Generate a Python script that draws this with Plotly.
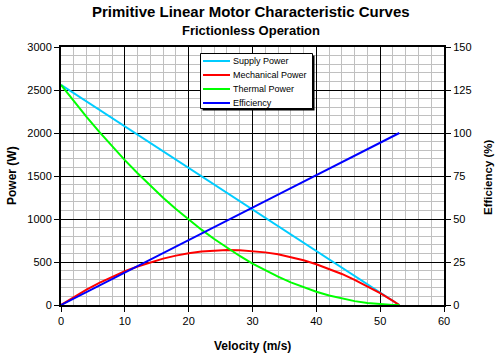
import plotly.graph_objects as go

# ---- data ----
velocity = [0, 2, 4, 6, 8, 10, 12, 14, 16, 18, 20, 22, 24, 26, 28, 30, 32, 34, 36, 38,
            40, 42, 44, 46, 48, 50, 52, 53]
supply_power = [2560, 2463, 2367, 2270, 2174, 2077, 1980, 1884, 1787, 1691, 1594, 1497, 1401,
                1304, 1208, 1111, 1014, 918, 821, 725, 628, 531, 435, 338, 242, 145, 48, 0]
mechanical_power = [0, 93, 179, 257, 328, 392, 448, 498, 539, 574, 602, 621, 634, 640, 638,
                    629, 612, 589, 558, 520, 474, 421, 361, 293, 219, 137, 47, 0]
thermal_power = [2560, 2370, 2188, 2013, 1846, 1685, 1532, 1386, 1248, 1117, 992, 876, 767,
                 664, 570, 482, 402, 329, 263, 205, 154, 110, 74, 45, 23, 8, 1, 0]
efficiency = [0, 3.8, 7.5, 11.3, 15.1, 18.9, 22.6, 26.4, 30.2, 34.0, 37.7, 41.5, 45.3, 49.1,
              52.8, 56.6, 60.4, 64.2, 67.9, 71.7, 75.5, 79.2, 83.0, 86.8, 90.6, 94.3, 98.1, 100]

series_names = ["Supply Power", "Mechanical Power", "Thermal Power", "Efficiency"]
series_colors = ["#00CCFF", "#FF0000", "#00FF00", "#0000FF"]

title_text = "Primitive Linear Motor Characteristic Curves"
subtitle_text = "Frictionless Operation"
x_title = "Velocity (m/s)"
y_title = "Power (W)"
y2_title = "Efficiency (%)"

# ---- geometry ----
W, H = 497, 357
L, R, T, B = 61, 444, 47, 305
FONT = "Arial, Liberation Sans, sans-serif"


def px(xp):
    return (xp - L) / (R - L)


def py(yp):
    return (B - yp) / (B - T)


fig = go.Figure()
power_series = [supply_power, mechanical_power, thermal_power]
for name, vals, col in zip(series_names[:3], power_series, series_colors[:3]):
    fig.add_trace(go.Scatter(x=velocity, y=vals, mode="lines", name=name,
                             line=dict(color=col, width=2), showlegend=False,
                             yaxis="y"))
fig.add_trace(go.Scatter(x=velocity, y=efficiency, mode="lines", name=series_names[3],
                         line=dict(color=series_colors[3], width=2), showlegend=False,
                         yaxis="y2"))

axis_common = dict(showline=True, linewidth=2, linecolor="black", ticks="outside",
                   ticklen=5, tickwidth=1, tickcolor="black", zeroline=False,
                   automargin=False,
                   tickfont=dict(family=FONT, size=11, color="black"))

fig.update_layout(
    width=W, height=H,
    margin=dict(l=L, r=W - R, t=T, b=H - B, autoexpand=False),
    paper_bgcolor="white", plot_bgcolor="white",
    showlegend=False,
    xaxis=dict(range=[0, 60], dtick=10, tick0=0, mirror=True,
               showgrid=True, gridcolor="black", gridwidth=1,
               minor=dict(dtick=2, showgrid=True, gridcolor="#C0C0C0", gridwidth=1, ticklen=0),
               **axis_common),
    yaxis=dict(range=[0, 3000], dtick=500, tick0=0, mirror=True,
               showgrid=True, gridcolor="black", gridwidth=1,
               minor=dict(dtick=100, showgrid=True, gridcolor="#C0C0C0", gridwidth=1, ticklen=0),
               **axis_common),
    yaxis2=dict(range=[0, 150], dtick=25, tick0=0, overlaying="y", side="right",
                showgrid=False, **axis_common),
)


def ann(text, xpix, ypix, size, bold=True, angle=0, xanchor="center"):
    return dict(text=("<b>" + text + "</b>") if bold else text,
                x=px(xpix), y=py(ypix), xref="paper", yref="paper",
                xanchor=xanchor, yanchor="middle", showarrow=False, textangle=angle,
                font=dict(family=FONT, size=size, color="black"))


annotations = [
    ann(title_text, 251, 12, 15),
    ann(subtitle_text, 251, 30, 13),
    ann(x_title, 252, 346, 12),
    ann(y_title, 12, 176, 12, angle=-90),
    ann(y2_title, 488, 177, 11.5, angle=-90),
]

# manual legend
shapes = [
    dict(type="rect", xref="paper", yref="paper", x0=px(202.5), x1=px(314.5), y0=py(110.5), y1=py(55.5),
         fillcolor="black", line=dict(width=0), layer="above"),
    dict(type="rect", xref="paper", yref="paper", x0=px(200.5), x1=px(312.5), y0=py(108.5), y1=py(53.5),
         fillcolor="white", line=dict(color="black", width=1), layer="above"),
]
row_y = [61, 75, 89, 103]
for name, col, ry in zip(series_names, series_colors, row_y):
    shapes.append(dict(type="line", xref="paper", yref="paper", x0=px(203), x1=px(230),
                       y0=py(ry), y1=py(ry), line=dict(color=col, width=2), layer="above"))
    annotations.append(ann(name, 231, ry, 9, bold=False, xanchor="left"))

fig.update_layout(shapes=shapes, annotations=annotations)

fig.write_html("out.html", config={"displayModeBar": False},
               post_script="document.body.style.margin='0';")
